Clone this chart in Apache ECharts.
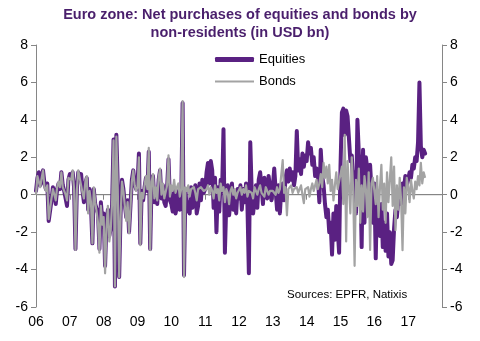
<!DOCTYPE html>
<html>
<head>
<meta charset="utf-8">
<script src="https://cdn.jsdelivr.net/npm/echarts@6/dist/echarts.min.js"></script>
<style>html,body{margin:0;padding:0;background:#fff}#c{width:480px;height:341px}</style>
</head>
<body>
<div id="c"></div>
<script>
// semi-monthly observations starting Jan 2006 (24 per year)
const startYear = 2006;
const perYear = 24;
const yearTicks = ['06','07','08','09','10','11','12','13','14','15','16','17'];
const equities = [
  // 2006
  0.2, 0.9, 1.2, 0.5, 0.8, 1.3, 0.6, 0.3, 0.6, -1.4, -1.5, -0.3, 0.4, 0.1, -0.5, 0.3, 0.6, 0.3, 1.2, 0.5, 0.2, -0.2, -0.6, 0.8,
  // 2007
  1.1, 0.9, 1.2, 0.4, -2.9, 0.3, 1.2, 0.8, 1.1, 0.2, -0.4, 0.6, 0.9, -0.8, 0.3, -0.6, -2.6, 0.3, -0.5, -0.5, -1.0, -2.9, -0.4, -1.3,
  // 2008
  -1.0, -3.8, -1.5, -0.8, -2.2, -1.8, -0.5, 2.95, -4.9, 3.2, 0.5, -4.4, -1.0, 0.8, 0.3, -0.5, -1.2, -0.3, -2.0, -0.6, 0.8, 1.3, 0.6, 0.3,
  // 2009
  0.5, 2.2, -2.6, 0.2, -0.3, 0.4, 0.9, 0.2, 2.3, -2.9, 0.6, 1.0, -0.4, 0.3, -0.5, 0.8, 1.3, -0.2, 0.5, -0.4, -0.6, 0.4, 1.9, -0.3,
  // 2010
  -0.5, -0.9, 0.3, -1.0, -0.6, 0.2, -0.8, -0.3, 4.9, -4.3, 0.3, -0.9, -0.4, -1.0, 0.4, -0.7, -0.2, 0.5, -1.0, -0.6, 0.6, -0.3, 0.8, 0.1,
  // 2011
  0.3, 1.2, 1.7, 0.6, 1.8, 1.3, -0.7, 0.9, -2.0, 0.4, -0.9, 0.8, 0.2, 3.5, -3.1, -0.4, 0.5, -1.1, -0.3, 0.6, -0.8, -0.2, -1.0, 0.3,
  // 2012
  -0.2, 0.5, -0.8, 0.3, -0.4, 0.6, -0.6, -4.2, 2.8, 0.2, -1.0, -0.3, 0.5, -0.7, 0.8, 1.2, 0.4, -0.5, 0.9, 0.3, -0.2, 1.0, 0.4, -0.3,
  // 2013
  0.4, 1.4, 0.2, -0.8, 0.5, -1.0, 0.3, 0.6, -0.3, 0.9, 1.3, 0.7, 1.4, 0.8, 1.2, 0.5, 1.0, 3.4, 1.3, 1.9, 1.1, 2.2, 1.5, 2.1,
  // 2014
  1.8, 2.8, 2.2, 2.5, 1.6, 2.0, 1.0, 1.4, 0.9, -0.4, 2.4, 1.0, 0.5, -0.5, -1.2, -0.8, -2.0, -1.5, -3.2, -1.0, -2.4, -0.6, -1.8, -3.1,
  // 2015
  1.5, 4.4, 4.6, 3.2, 4.5, 4.2, 3.0, 1.8, 2.1, 0.5, 1.2, -1.0, 4.0, 2.2, 1.3, -2.8, 2.4, -1.5, 2.0, 1.4, -0.8, 1.6, 0.2, -1.5,
  // 2016
  0.6, -3.4, 0.2, -1.0, -2.2, -0.5, -2.8, -1.5, -3.0, -1.0, -3.3, -2.0, -3.7, -3.5, -1.8, -0.8, -1.2, -0.3, 0.2, -0.5, 0.6, 0.3, 1.0, 0.5,
  // 2017
  0.8, 1.2, 0.9, 1.6, 1.4, 2.0, 1.8, 2.8, 6.0, 2.6, 2.0, 2.4, 2.2
];
const bonds = [
  // 2006
  0.0, 1.0, 1.1, 0.4, 0.9, 1.3, 0.4, 0.2, 0.5, -1.3, -1.4, -0.2, 0.3, 0.2, -0.3, 0.4, 0.7, 0.4, 1.2, 0.4, 0.3, 0.0, -0.3, 0.9,
  // 2007
  1.0, 0.8, 1.3, 0.3, -2.95, 0.2, 1.3, 0.9, 1.0, 0.1, -0.2, 0.7, 1.0, -1.0, 0.2, -0.4, -2.6, 0.4, -0.4, -0.9, -1.5, -3.1, -0.6, -1.6,
  // 2008
  -1.2, -4.2, -1.8, -0.6, -2.5, -1.9, -0.4, 2.9, -4.9, 3.1, 0.3, -4.4, -1.2, 0.7, 0.2, -0.6, -1.4, -0.4, -2.05, -0.7, 0.7, 1.3, 0.5, 0.2,
  // 2009
  0.4, 2.0, -2.7, 0.1, -0.2, 0.5, 1.0, 0.3, 2.5, -2.96, 0.7, 1.1, -0.2, 0.4, -0.3, 0.9, 1.4, 0.0, 0.6, -0.2, -0.1, 0.5, 2.1, -0.1,
  // 2010
  0.5, 0.2, 0.8, 0.1, 0.4, 0.6, -0.1, 0.3, 5.0, -4.4, 0.4, 0.2, 0.5, -0.1, 0.3, 0.2, 0.4, 0.1, -0.3, 0.3, 0.2, 0.4, 0.3, 0.2,
  // 2011
  0.1, 0.3, 0.5, 0.0, 0.4, 0.2, -0.2, 0.5, 0.1, 0.3, -0.3, 0.6, 0.2, 0.4, -0.4, 0.3, 0.1, -0.5, 0.2, 0.4, 0.0, 0.3, -0.2, 0.1,
  // 2012
  0.2, 0.4, 0.0, 0.3, 0.1, 0.5, -0.1, 0.2, 0.3, 0.1, -0.2, 0.4, 0.2, 0.0, 0.3, 0.5, 0.1, 0.2, -0.1, 0.4, 0.3, 0.0, 0.2, 0.3,
  // 2013
  0.2, 0.3, 0.0, 0.4, 0.1, 0.3, 0.2, 1.85, 0.1, 0.4, -1.1, 0.3, 0.2, 0.5, 0.1, 0.3, 0.2, 0.4, 0.1, 0.3, 0.5, 0.0, -0.45, 0.3,
  // 2014
  0.2, 0.4, -0.1, 0.3, 0.6, 0.2, 0.5, 0.8, 0.3, 0.6, 1.1, 0.4, 1.7, 0.9, 1.5, 0.6, 1.6, 0.2, 0.8, -0.3, 0.5, 1.2, 0.3, 0.7,
  // 2015
  0.6, 1.5, -0.5, 3.2, -2.5, 1.8, 0.4, -1.0, 2.0, 0.2, -3.8, 0.8, -0.6, 1.4, -1.5, 0.5, -0.9, 1.0, 0.3, -1.2, 1.2, -2.95, 0.6, 0.9,
  // 2016
  0.8, -0.5, 1.0, -1.2, 0.4, 1.6, -0.8, 0.6, -1.5, 1.2, -0.4, 0.8, 2.0, -0.6, 1.5, -1.9, 0.5, -0.8, 0.9, -0.3, -2.96, 0.4, -1.0, 0.9,
  // 2017
  0.4, -0.4, 0.8, 0.2, -0.2, 0.7, 0.3, 1.0, 0.5, 1.7, 0.6, 1.2, 0.9
];

const toPairs = arr => arr.map((v, i) => [startYear + i / perYear, v]);
const purple = '#5a2182';
const grey = '#a3a3a3';
const axisGrey = '#868686';
const font = 'Liberation Sans, Arial, sans-serif';

const chart = echarts.init(document.getElementById('c'), null, {renderer: 'canvas'});
chart.setOption({
  animation: false,
  backgroundColor: '#fff',
  title: {
    text: 'Euro zone: Net purchases of equities and bonds by\nnon-residents (in USD bn)',
    left: 'center', top: 1,
    textStyle: {fontFamily: font, fontSize: 14.5, fontWeight: 'bold', color: '#4a1f6c', lineHeight: 18}
  },
  legend: [
    {data: ['Equities'], left: 210, top: 48, itemWidth: 39, itemHeight: 5, icon: 'roundRect',
     textStyle: {fontFamily: font, fontSize: 13, color: '#000'}, itemGap: 6},
    {data: ['Bonds'], left: 210, top: 70, itemWidth: 39, itemHeight: 2, icon: 'rect',
     textStyle: {fontFamily: font, fontSize: 13, color: '#000'}, itemGap: 6}
  ],
  grid: {left: 36, right: 38, top: 45, bottom: 34},
  xAxis: {
    type: 'value', min: 2006, max: 2018, interval: 1,
    axisLine: {lineStyle: {color: axisGrey}},
    axisTick: {length: 5, lineStyle: {color: axisGrey}},
    splitLine: {show: false},
    axisLabel: {
      fontFamily: font, fontSize: 14, color: '#000', margin: 8,
      formatter: v => { const i = Math.round(v - startYear); return yearTicks[i] || ''; }
    }
  },
  yAxis: [
    {type: 'value', min: -6, max: 8, interval: 2, position: 'left',
     axisLine: {show: true, lineStyle: {color: axisGrey}},
     axisTick: {show: true, length: 5, lineStyle: {color: axisGrey}},
     splitLine: {show: false},
     axisLabel: {fontFamily: font, fontSize: 14, color: '#000', margin: 8}},
    {type: 'value', min: -6, max: 8, interval: 2, position: 'right',
     axisLine: {show: true, lineStyle: {color: axisGrey}},
     axisTick: {show: true, length: 5, lineStyle: {color: axisGrey}},
     splitLine: {show: false},
     axisLabel: {fontFamily: font, fontSize: 14, color: '#000', margin: 8}}
  ],
  series: [
    {name: 'zero', type: 'line', data: [[2006, 0], [2018, 0]], symbol: 'none', silent: true,
     lineStyle: {color: axisGrey, width: 1}, z: 1},
    {name: 'Equities', type: 'line', data: toPairs(equities), symbol: 'none',
     lineStyle: {color: purple, width: 4, join: 'round', cap: 'round'}, itemStyle: {color: purple}, z: 2},
    {name: 'Bonds', type: 'line', data: toPairs(bonds), symbol: 'none',
     lineStyle: {color: grey, width: 2.2, join: 'round'}, itemStyle: {color: grey}, z: 3}
  ],
  graphic: [
    {type: 'text', left: 287, top: 289,
     style: {text: 'Sources: EPFR, Natixis', fontFamily: font, fontSize: 11.5, fill: '#000'}}
  ]
});
</script>
</body>
</html>
